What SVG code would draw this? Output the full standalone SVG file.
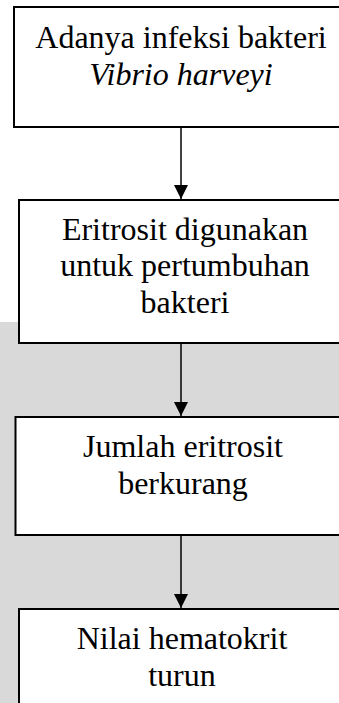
<svg xmlns="http://www.w3.org/2000/svg" width="339" height="703" viewBox="0 0 339 703">
  <style>
    .box { fill: #ffffff; stroke: #000000; stroke-width: 2; }
    .t { font-family: "Liberation Serif", "Times New Roman", serif; font-size: 32px; fill: #000000; text-anchor: middle; }
    .it { font-style: italic; }
    .conn { stroke: #000000; stroke-width: 1.5; fill: none; }
  </style>
  <defs>
    <marker id="arrow" markerUnits="userSpaceOnUse" markerWidth="16" markerHeight="16" refX="14" refY="7" orient="auto">
      <path d="M0,0 L14,7 L0,14 Z" fill="#000000"/>
    </marker>
  </defs>
  <rect x="0" y="0" width="339" height="703" fill="#ffffff"/>
  <rect x="0" y="322" width="339" height="381" fill="#d9d9d9"/>

  <g id="node1">
    <rect class="box" x="14" y="7" width="340" height="120"/>
    <text class="t" x="181" y="48">Adanya infeksi bakteri</text>
    <text class="t it" x="181" y="85">Vibrio harveyi</text>
  </g>

  <g id="node2">
    <rect class="box" x="19" y="200" width="340" height="143"/>
    <text class="t" x="185" y="239.5">Eritrosit digunakan</text>
    <text class="t" x="185" y="276.3">untuk pertumbuhan</text>
    <text class="t" x="185" y="313">bakteri</text>
  </g>

  <g id="node3">
    <rect class="box" x="15.5" y="417" width="340" height="118"/>
    <text class="t" x="183" y="456.7">Jumlah eritrosit</text>
    <text class="t" x="183" y="493.5">berkurang</text>
  </g>

  <g id="node4">
    <rect class="box" x="19" y="609" width="340" height="120"/>
    <text class="t" x="182" y="649">Nilai hematokrit</text>
    <text class="t" x="182" y="686">turun</text>
  </g>

  <g id="connectors">
    <line class="conn" x1="181" y1="128" x2="181" y2="199" marker-end="url(#arrow)"/>
    <line class="conn" x1="181" y1="344" x2="181" y2="416" marker-end="url(#arrow)"/>
    <line class="conn" x1="181" y1="536" x2="181" y2="608" marker-end="url(#arrow)"/>
  </g>
</svg>
